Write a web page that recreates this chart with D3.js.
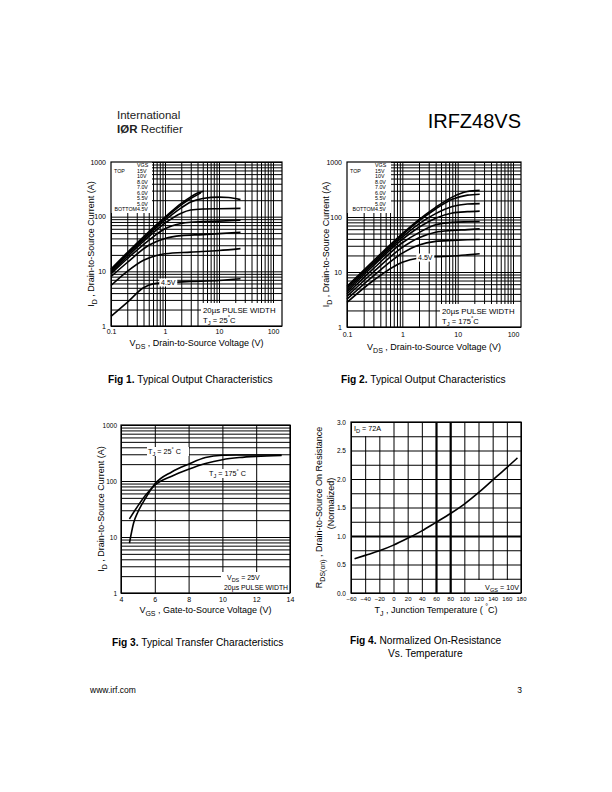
<!DOCTYPE html>
<html>
<head>
<meta charset="utf-8">
<script src="https://cdn.jsdelivr.net/npm/d3@7"></script>
<style>
  body { margin: 0; background: #fff; }
  svg { display: block; font-family: "Liberation Sans", Arial, sans-serif; }
</style>
</head>
<body>
<div id="page"></div>
<script>
// ---------- data ----------
const vgsLevels = ["15V", "10V", "8.0V", "7.0V", "6.0V", "5.5V", "5.0V", "4.5V"];
const logTicksV = [0.1, 1, 10, 100];
const logTicksI = [1, 10, 100, 1000];

// Fig 1, TJ = 25C : [VDS (V), ID (A)]
const f1_15V = [[0.1, 11], [0.2, 22], [0.5, 53], [1, 98], [2, 175], [3, 230], [4, 270], [5.2, 292]];
const f1_10V = [[0.1, 10.5], [0.2, 21], [0.5, 50], [1, 93], [2, 165], [3, 215], [4.6, 272]];
const f1_8V = [[0.1, 10], [0.2, 20], [0.5, 47], [1, 86], [2, 145], [3, 185], [5, 215], [10, 228], [15, 224], [25, 205]];
const f1_7V = [[0.1, 9.5], [0.2, 18.5], [0.5, 43], [1, 76], [2, 116], [3, 132], [5, 138], [10, 140], [25, 142]];
const f1_6V = [[0.1, 9], [0.2, 17], [0.5, 37], [1, 60], [2, 75], [3, 79], [5, 81], [10, 83], [25, 86]];
const f1_55V = [[0.1, 8], [0.2, 14.5], [0.5, 30], [1, 40], [2, 45], [5, 47], [10, 49], [25, 52]];
const f1_5V = [[0.1, 5.5], [0.2, 10], [0.4, 16], [0.7, 19.5], [1, 21], [3, 22.5], [10, 24], [25, 26]];
const f1_45V = [[0.1, 1.5], [0.2, 2.7], [0.4, 5], [0.6, 5.9], [1, 6.2], [3, 6.5], [10, 6.8], [25, 7.3]];
const fig1Series = [f1_15V, f1_10V, f1_8V, f1_7V, f1_6V, f1_55V, f1_5V, f1_45V];

// Fig 2, TJ = 175C
const f2_15V = [[0.1, 5.5], [0.3, 16], [1, 50], [2, 90], [4, 150], [8, 230], [15, 290], [25, 305]];
const f2_10V = [[0.1, 5.2], [0.3, 15], [1, 47], [2, 85], [4, 140], [8, 210], [15, 250], [25, 260]];
const f2_8V = [[0.1, 4.8], [0.3, 14], [1, 43], [2, 75], [4, 115], [8, 155], [15, 172], [25, 175]];
const f2_7V = [[0.1, 4.4], [0.3, 13], [1, 39], [2, 65], [4, 95], [8, 118], [15, 125], [25, 128]];
const f2_6V = [[0.1, 4.0], [0.3, 11.5], [1, 34], [2, 52], [4, 72], [8, 80], [15, 82], [25, 83]];
const f2_55V = [[0.1, 3.6], [0.3, 10], [1, 28], [2, 42], [4, 53], [8, 57], [15, 59], [25, 61]];
const f2_5V = [[0.1, 3.2], [0.3, 8.5], [1, 22], [2, 31], [4, 36], [8, 37.5], [15, 38.5], [25, 39]];
const f2_45V = [[0.1, 2.8], [0.3, 7], [1, 15], [2, 18], [4, 19], [8, 19.5], [15, 20.5], [25, 21.5]];
const fig2Series = [f2_15V, f2_10V, f2_8V, f2_7V, f2_6V, f2_55V, f2_5V, f2_45V];

// Fig 3, transfer: [VGS (V), ID (A)]
const f3_25C = [[4.5, 7.8], [4.75, 18], [5, 28], [5.5, 52], [6, 88], [7, 145], [8, 200], [9, 262], [10, 288], [11, 291], [12, 292], [13.5, 292]];
const f3_175C = [[4.5, 21], [5, 36], [5.5, 58], [6, 84], [7, 122], [8, 162], [9, 205], [10, 240], [11, 262], [12, 275], [13.5, 285]];
const fig3Ticks = [4, 6, 8, 10, 12, 14];

// Fig 4, normalized RDS(on) vs TJ
const f4_temp = [-55, -40, -20, 0, 20, 40, 60, 80, 100, 120, 140, 160, 175];
const f4_rds = [0.60, 0.66, 0.74, 0.84, 0.96, 1.09, 1.24, 1.39, 1.56, 1.76, 1.98, 2.20, 2.37];
const fig4TicksX = [-60, -40, -20, 0, 20, 40, 60, 80, 100, 120, 140, 160, 180];
const fig4TicksY = [0, 0.5, 1, 1.5, 2, 2.5, 3];

// ---------- page ----------
const svg = d3.select("#page").append("svg").attr("width", 612).attr("height", 792);
svg.append("rect").attr("width", 612).attr("height", 792).attr("fill", "#fff");

// text with sub/superscript parts: [string, "sub"|"sup"|undefined]
function richText(g, x, y, parts, size, anchor) {
  const t = g.append("text").attr("x", x).attr("y", y)
    .attr("font-size", size).attr("text-anchor", anchor || "start").attr("fill", "#000");
  let shift = 0;
  parts.forEach(p => {
    const s = p[1] === "sub" ? size * 0.3 : p[1] === "sup" ? -size * 0.4 : 0;
    const ts = t.append("tspan").attr("dy", s - shift).text(p[0]);
    if (p[1]) ts.attr("font-size", size * 0.78);
    shift = s;
  });
  return t;
}

function styleGrid(sel, sw) {
  sel.select(".domain").remove();
  sel.selectAll("line").attr("stroke", "#000").attr("stroke-width", sw || 1);
}

function styleLabels(sel, size) {
  sel.select(".domain").remove();
  sel.selectAll("text").attr("font-size", size).attr("font-family", null).attr("fill", "#000");
}

function whiteBox(g, x, y, w, h) {
  g.append("rect").attr("x", x).attr("y", y).attr("width", w).attr("height", h).attr("fill", "#fff");
}

function outputChart(c) {
  const x = d3.scaleLog().domain([0.1, 100]).range([c.left, c.x100]);
  const y = d3.scaleLog().domain([1, 1000]).range([c.bottom, c.top]);
  const w = c.right - c.left, h = c.bottom - c.top;
  const g = svg.append("g");

  g.append("g").attr("transform", `translate(0,${c.bottom})`)
    .call(d3.axisBottom(x).tickValues(x.ticks()).tickSize(-h).tickFormat(""))
    .call(s => styleGrid(s));
  g.append("g").attr("transform", `translate(${c.left},0)`)
    .call(d3.axisLeft(y).tickValues(y.ticks()).tickSize(-w).tickFormat(""))
    .call(s => styleGrid(s));

  // legend area
  whiteBox(g, c.left, c.top, c.legW, 51);

  const line = d3.line().x(d => x(d[0])).y(d => y(d[1])).curve(d3.curveMonotoneX);
  g.selectAll("path.curve").data(c.series).enter().append("path")
    .attr("class", "curve").attr("d", line)
    .attr("fill", "none").attr("stroke", "#000").attr("stroke-width", 1.6);

  // legend text
  const lg = g.append("g").attr("font-size", 5.3).attr("fill", "#000");
  lg.append("text").attr("x", c.left + c.legCol).attr("y", c.top + 5).text("VGS");
  vgsLevels.forEach((v, i) => {
    const yy = c.top + 10.5 + i * 5.5;
    lg.append("text").attr("x", c.left + c.legCol).attr("y", yy).text(v);
    if (i === 0) lg.append("text").attr("x", c.left + 3).attr("y", yy).text("TOP");
    if (i === vgsLevels.length - 1) lg.append("text").attr("x", c.left + c.legCol).attr("y", yy)
      .attr("text-anchor", "end").text("BOTTOM");
  });

  // 4.5V label on the lowest curve
  const lx = x(c.lab45[0]), ly = y(c.lab45[1]);
  whiteBox(g, lx - 9, ly - 4, 18, 8);
  g.append("text").attr("x", lx).attr("y", ly + 2.5).attr("text-anchor", "middle")
    .attr("font-size", 7).text("4.5V");

  // pulse width box
  whiteBox(g, c.right - 81, c.bottom - 23, 81, 23);
  g.append("text").attr("x", c.right - 79).attr("y", c.bottom - 13.5).attr("font-size", 7.8)
    .text("20\u00b5s PULSE WIDTH");
  richText(g, c.right - 79, c.bottom - 3.5, [["T"], ["J", "sub"], [" = " + c.tj], ["\u00b0", "sup"], ["C"]], 7.6);

  g.append("rect").attr("x", c.left).attr("y", c.top).attr("width", w).attr("height", h)
    .attr("fill", "none").attr("stroke", "#000").attr("stroke-width", 1.2);

  // tick labels
  g.append("g").attr("transform", `translate(0,${c.bottom})`)
    .call(d3.axisBottom(x).tickValues(logTicksV).tickFormat(d3.format("~g")).tickSize(0).tickPadding(c.xPad))
    .call(s => styleLabels(s, 7));
  g.append("g").attr("transform", `translate(${c.left},0)`)
    .call(d3.axisLeft(y).tickValues(logTicksI).tickFormat(d3.format("~g")).tickSize(0).tickPadding(5))
    .call(s => styleLabels(s, 7));

  richText(g, (c.left + c.right) / 2, c.xTitleY,
    [["V"], ["DS", "sub"], [" , Drain-to-Source Voltage (V)"]], 9, "middle");
  const yt = g.append("g").attr("transform", `translate(${c.yTitleX},${(c.top + c.bottom) / 2}) rotate(-90)`);
  richText(yt, 0, 0, [["I"], ["D", "sub"], [" ,  Drain-to-Source Current (A)"]], 9, "middle");
}

outputChart({ left: 111, x100: 273, right: 282, top: 162, bottom: 326, legW: 41, legCol: 26,
  series: fig1Series, tj: "25", lab45: [1.15, 6.25], xPad: 3.5, xTitleY: 346, yTitleX: 94 });
outputChart({ left: 347, x100: 513, right: 521, top: 162, bottom: 327, legW: 44, legCol: 28,
  series: fig2Series, tj: "175", lab45: [2.6, 18.3], xPad: 5, xTitleY: 350, yTitleX: 329 });

// ---------- Fig 3 ----------
(function () {
  const left = 121, right = 290, top = 425, bottom = 593;
  const x = d3.scaleLinear().domain([4, 14]).range([left, right]);
  const y = d3.scaleLog().domain([1, 1000]).range([bottom, top]);
  const g = svg.append("g");
  g.append("g").attr("transform", `translate(0,${bottom})`)
    .call(d3.axisBottom(x).tickValues(fig3Ticks).tickSize(-(bottom - top)).tickFormat(""))
    .call(s => styleGrid(s));
  g.append("g").attr("transform", `translate(${left},0)`)
    .call(d3.axisLeft(y).tickValues(y.ticks()).tickSize(-(right - left)).tickFormat(""))
    .call(s => styleGrid(s));

  const line = d3.line().x(d => x(d[0])).y(d => y(d[1])).curve(d3.curveMonotoneX);
  [f3_25C, f3_175C].forEach(d => g.append("path").attr("d", line(d))
    .attr("fill", "none").attr("stroke", "#000").attr("stroke-width", 1.6));

  whiteBox(g, 147, 447, 42, 9);
  richText(g, 148, 454, [["T"], ["J", "sub"], [" = 25"], ["\u00b0", "sup"], [" C"]], 7.2);
  whiteBox(g, 208, 469, 44, 9);
  richText(g, 209, 476, [["T"], ["J", "sub"], [" = 175"], ["\u00b0", "sup"], [" C"]], 7.2);

  whiteBox(g, 221, 572, right - 221, bottom - 572);
  richText(g, 227, 580, [["V"], ["DS", "sub"], [" = 25V"]], 7);
  g.append("text").attr("x", 224).attr("y", 590).attr("font-size", 6.9).text("20\u00b5s PULSE WIDTH");

  g.append("rect").attr("x", left).attr("y", top).attr("width", right - left).attr("height", bottom - top)
    .attr("fill", "none").attr("stroke", "#000").attr("stroke-width", 1.2);

  g.append("g").attr("transform", `translate(0,${bottom})`)
    .call(d3.axisBottom(x).tickValues(fig3Ticks).tickFormat(d3.format("d")).tickSize(0).tickPadding(4))
    .call(s => styleLabels(s, 7));
  g.append("g").attr("transform", `translate(${left},0)`)
    .call(d3.axisLeft(y).tickValues(logTicksI).tickFormat(d3.format("~g")).tickSize(0).tickPadding(4))
    .call(s => styleLabels(s, 6.5));

  richText(g, (left + right) / 2, 613, [["V"], ["GS", "sub"], [" , Gate-to-Source Voltage (V)"]], 9, "middle");
  const yt = g.append("g").attr("transform", `translate(104,${(top + bottom) / 2}) rotate(-90)`);
  richText(yt, 0, 0, [["I"], ["D", "sub"], [" ,  Drain-to-Source Current (A)"]], 9, "middle");
})();

// ---------- Fig 4 ----------
(function () {
  const left = 351, right = 521, top = 422, bottom = 593;
  const x = d3.scaleLinear().domain([-60, 180]).range([left, right]);
  const y = d3.scaleLinear().domain([0, 3]).range([bottom, top]);
  const g = svg.append("g");
  g.append("g").attr("transform", `translate(0,${bottom})`)
    .call(d3.axisBottom(x).tickValues(fig4TicksX).tickSize(-(bottom - top)).tickFormat(""))
    .call(s => styleGrid(s));
  g.append("g").attr("transform", `translate(${left},0)`)
    .call(d3.axisLeft(y).tickValues(d3.range(0, 3.01, 0.25)).tickSize(-(right - left)).tickFormat(""))
    .call(s => styleGrid(s));
  // heavier reference lines
  g.append("g").attr("transform", `translate(0,${bottom})`)
    .call(d3.axisBottom(x).tickValues([60, 80]).tickSize(-(bottom - top)).tickFormat(""))
    .call(s => styleGrid(s, 2.2));
  g.append("g").attr("transform", `translate(${left},0)`)
    .call(d3.axisLeft(y).tickValues([1]).tickSize(-(right - left)).tickFormat(""))
    .call(s => styleGrid(s, 2.2));

  whiteBox(g, left + 1, top + 1, 33, 13);
  richText(g, left + 3, top + 9, [["I"], ["D", "sub"], [" = 72A"]], 7.2);
  whiteBox(g, 477, 580, right - 477, bottom - 580);
  richText(g, 519, 590, [["V"], ["GS", "sub"], [" = 10V"]], 7.2, "end");

  const line = d3.line().x((d, i) => x(f4_temp[i])).y(d => y(d)).curve(d3.curveMonotoneX);
  g.append("path").attr("d", line(f4_rds))
    .attr("fill", "none").attr("stroke", "#000").attr("stroke-width", 1.6);

  g.append("rect").attr("x", left).attr("y", top).attr("width", right - left).attr("height", bottom - top)
    .attr("fill", "none").attr("stroke", "#000").attr("stroke-width", 1.2);

  g.append("g").attr("transform", `translate(0,${bottom})`)
    .call(d3.axisBottom(x).tickValues(fig4TicksX).tickFormat(d3.format("d")).tickSize(0).tickPadding(4))
    .call(s => styleLabels(s, 6));
  g.append("g").attr("transform", `translate(${left},0)`)
    .call(d3.axisLeft(y).tickValues(fig4TicksY).tickFormat(d3.format(".1f")).tickSize(0).tickPadding(5))
    .call(s => styleLabels(s, 6.5));

  richText(g, (left + right) / 2, 613, [["T"], ["J", "sub"], [" , Junction Temperature ( "], ["\u00b0", "sup"], ["C)"]], 9, "middle");
  const yt = g.append("g").attr("transform", `translate(322,${(top + bottom) / 2}) rotate(-90)`);
  richText(yt, 0, 0, [["R"], ["DS(on)", "sub"], [" ,  Drain-to-Source On Resistance"]], 9, "middle");
  g.append("text").attr("transform", `translate(334,${(top + bottom) / 2 - 4}) rotate(-90)`)
    .attr("text-anchor", "middle").attr("font-size", 9).text("(Normalized)");
})();

// ---------- header, captions, footer ----------
svg.append("text").attr("x", 117).attr("y", 119).attr("font-size", 11.5)
  .attr("fill", "#222").text("International");
const logo = svg.append("text").attr("x", 117).attr("y", 133).attr("font-size", 11.5).attr("fill", "#222");
logo.append("tspan").attr("font-weight", "bold").text("I\u00d8R");
logo.append("tspan").text(" Rectifier");
svg.append("text").attr("x", 521).attr("y", 128).attr("text-anchor", "end").attr("font-size", 20).text("IRFZ48VS");

function caption(x, y, bold, rest) {
  const t = svg.append("text").attr("x", x).attr("y", y).attr("font-size", 10.2);
  t.append("tspan").attr("font-weight", "bold").text(bold);
  t.append("tspan").text("  " + rest);
}
caption(108, 383, "Fig 1.", "Typical Output Characteristics");
caption(341, 383, "Fig 2.", "Typical Output Characteristics");
caption(112, 646, "Fig 3.", "Typical Transfer Characteristics");
caption(350, 644, "Fig 4.", "Normalized On-Resistance");
svg.append("text").attr("x", 388).attr("y", 657).attr("font-size", 10.2).text("Vs. Temperature");

svg.append("text").attr("x", 90).attr("y", 693).attr("font-size", 8.5).text("www.irf.com");
svg.append("text").attr("x", 522).attr("y", 693).attr("font-size", 8.5).attr("text-anchor", "end").text("3");
</script>
</body>
</html>
